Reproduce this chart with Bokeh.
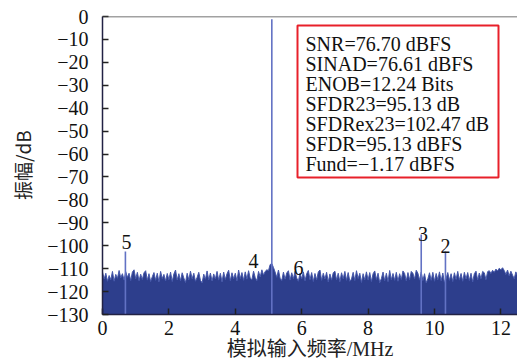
import numpy as np
from bokeh.plotting import figure
from bokeh.models import Span, Label, BoxAnnotation, FixedTicker, ColumnDataSource
from bokeh.core.properties import value
from bokeh.embed import file_html
from bokeh.resources import INLINE

# ---------------- data ----------------
bin_step_mhz = 0.05
noise_top_db = [
    -111.5, -114.5, -112, -115.5, -113, -114.8, -111.2, -115.5, -112.5, -114.2, -110.8, -114, -112.2, -115, -111.3, -113.8, -112, -115.2, -111.5, -110.5,
    -114.4, -111.6, -115.3, -112.4, -114.7, -111.8, -110.9, -115, -112.2, -115.6, -113.5, -111.7, -115.1, -112, -115.8, -111.2, -114.3, -112.5, -115.4, -112.1,
    -114.8, -111.5, -115.6, -112.3, -110.6, -114.9, -112.2, -115.3, -111.8, -114.1, -116, -112, -114.9, -111.1, -114.4, -112, -115.5, -113.8, -111.6, -115.1,
    -116.2, -112.4, -114.6, -111, -114.9, -111.9, -115.4, -112.3, -114.5, -111.2, -115, -112, -115.8, -111.5, -114.7, -112.2, -110.7, -115.3, -111.8, -114.4,
    -112, -115.4, -110.6, -114.3, -111.7, -115.1, -111.4, -114.6, -110.9, -114.2, -114.8, -111.1, -113.9, -115.3, -111.2, -113.6, -110.5, -112.8, -111.2, -110.5,
    -110.8, -108.2, -107.8, -109.5, -111.5, -113.8, -110.6, -114.2, -115.2, -111.5, -114.6, -111.9, -110.9, -115, -111.8, -114.4, -111.2, -114.1, -115.5, -111.9,
    -114.5, -111.4, -115.3, -112.2, -110.8, -114.8, -111.7, -115.6, -112.1, -114.9, -111.5, -110.6, -115.1, -112, -114.5, -111.6, -115.8, -112.3, -115, -111.8,
    -111.1, -114.9, -112, -115.7, -111.8, -114.4, -111.2, -115.1, -111.7, -115.5, -114.5, -111.6, -115.2, -110.9, -114.3, -112, -116, -112.2, -114.9, -111.4,
    -115, -111.7, -115.6, -112.2, -111, -114.7, -112, -116.1, -114.3, -111.5, -115.3, -112, -115.7, -110.8, -114.8, -112.1, -115.1, -111.6, -115.5, -112.2,
    -114.7, -111, -112.1, -115.3, -111.7, -114.9, -111.2, -112, -114.5, -110.7, -112, -115, -111.5, -115.2, -112.2, -116.2, -114.4, -111.8, -115.1, -111.6,
    -115.5, -112.1, -114.8, -111.4, -115.3, -111.9, -115.9, -114.3, -111.7, -115.1, -112.2, -115.6, -111.8, -114.7, -111.2, -115, -112.1, -115.5, -111.6, -114.5,
    -111.7, -115.2, -112, -115.8, -112.2, -111.1, -114.9, -111.9, -114.4, -111.2, -111.8, -114.8, -111.3, -110.9, -112.1, -110.7, -111.6, -110.2, -111, -109.8,
    -110.5, -109.6, -110.8, -112.5, -110.6, -113.2, -111.1, -112.8, -114.4, -111.4, -113,
]
spur_freq_mhz = [0.69, 5.10, 9.60, 10.33]
spur_level_db = [-102.5, -1.17, -95.13, -102.5]

harm_labels = ["5", "4", "6", "3", "2"]
harm_label_freq = [0.72, 4.55, 5.90, 9.65, 10.33]
harm_label_db = [-98.2, -106.5, -109.5, -94.7, -100.3]

stats_lines = [
    "SNR=76.70 dBFS",
    "SINAD=76.61 dBFS",
    "ENOB=12.24 Bits",
    "SFDR23=95.13 dB",
    "SFDRex23=102.47 dB",
    "SFDR=95.13 dBFS",
    "Fund=\u22121.17 dBFS",
]
x_ticks = [0, 2, 4, 6, 8, 10, 12]
y_ticks = list(range(-130, 1, 10))
x_label = "模拟输入频率/MHz"
y_label = "振幅/dB"

# ---------------- figure ----------------
X0, X1 = 0.0, 12.5
Y0, Y1 = -130.0, 0.0
W, H = 517, 362
LEFT, TOP, BOTTOM = 102, 16, 48
FW, FH = W - LEFT, H - TOP - BOTTOM
px_per_db = FH / (Y1 - Y0)
px_per_mhz = FW / (X1 - X0)

def py(pix):  # screen y (from top) -> data
    return Y1 - (pix - TOP) / px_per_db

def px(pix):  # screen x -> data
    return X0 + (pix - LEFT) / px_per_mhz

serif = "Liberation Serif, Noto Sans CJK SC"

p = figure(frame_width=FW, frame_height=FH, x_range=(X0, X1), y_range=(Y0, Y1),
           output_backend="svg", toolbar_location=None,
           min_border_left=LEFT, min_border_right=0,
           min_border_top=TOP, min_border_bottom=BOTTOM)
p.outline_line_color = None
p.grid.visible = False
p.background_fill_color = "white"
p.border_fill_color = "white"

freq = np.arange(len(noise_top_db)) * bin_step_mhz
src = ColumnDataSource(dict(x=freq, top=noise_top_db, bot=[Y0] * len(noise_top_db)))
p.varea(x="x", y1="bot", y2="top", source=src, fill_color="#2d3e8c")
p.line(x="x", y="top", source=src, line_color="#4658aa", line_width=1)

p.segment(x0=spur_freq_mhz, y0=[Y0] * len(spur_freq_mhz), x1=spur_freq_mhz, y1=spur_level_db,
          line_color="#6272c4", line_width=1.6)

p.text(x=harm_label_freq, y=harm_label_db, text=harm_labels,
       text_font=value("Liberation Serif"), text_font_size="20px",
       text_align="center", text_baseline="alphabetic", text_color="#111111")

# top border
p.add_layout(Span(location=Y1, dimension="width", line_color="#444444", line_width=1.5))

# stats box
p.add_layout(BoxAnnotation(left=px(297), right=px(498), top=py(25), bottom=py(177),
                           fill_alpha=0, line_color="#e8202a", line_alpha=1.0, line_width=2))
for i, s in enumerate(stats_lines):
    p.add_layout(Label(x=px(305), y=py(43 + i * 20), text=s,
                       text_font="Liberation Serif", text_font_size="20px",
                       text_baseline="alphabetic", text_color="#111111"))

# axes
p.axis.major_tick_in = 6
p.axis.major_tick_out = 0
p.axis.minor_tick_line_color = None
p.axis.major_tick_line_color = "#222222"
p.axis.major_tick_line_width = 1.5
p.axis.axis_line_color = "#222244"
p.axis.axis_line_width = 1.5
p.axis.major_label_text_font = "Liberation Serif"
p.axis.major_label_text_font_size = "20px"
p.axis.major_label_text_color = "#111111"

p.xaxis.ticker = FixedTicker(ticks=x_ticks)
p.yaxis.ticker = FixedTicker(ticks=y_ticks)
p.yaxis.major_label_overrides = {v: ("0" if v == 0 else "\u2212%d" % (-v)) for v in y_ticks}
p.xaxis.major_label_standoff = 6
p.yaxis.major_label_standoff = 14

p.yaxis.axis_label = y_label
p.yaxis.axis_label_text_font = "Noto Sans CJK SC"
p.yaxis.axis_label_text_font_size = "19px"
p.yaxis.axis_label_text_font_style = "normal"
p.yaxis.axis_label_text_color = "#222222"
p.yaxis.axis_label_standoff = 8

p.xaxis.axis_label = x_label
p.xaxis.axis_label_text_font = serif
p.xaxis.axis_label_text_font_size = "20px"
p.xaxis.axis_label_text_font_style = "normal"
p.xaxis.axis_label_text_color = "#222222"
p.xaxis.axis_label_standoff = 0

open("out.html", "w").write(file_html(p, INLINE))
